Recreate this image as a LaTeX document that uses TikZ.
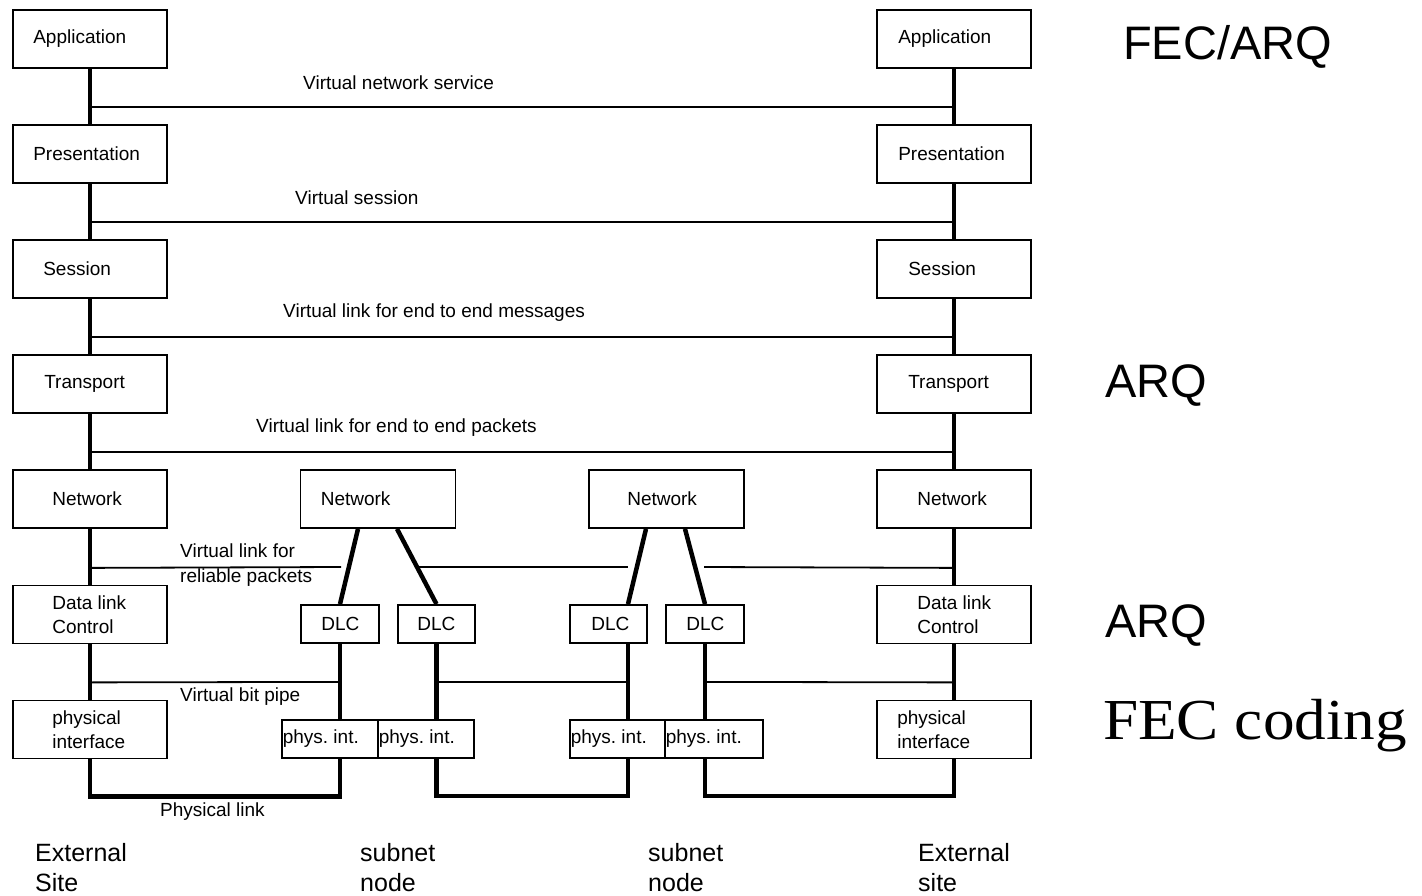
\documentclass[tikz,border=0pt]{standalone}
\usepackage{fontspec}
\usepackage{graphicx}
\setmainfont{Liberation Sans}
\newfontfamily\codingfont{Liberation Serif}
\usetikzlibrary{calc}
\frenchspacing

\tikzset{
	tag/.style={anchor=west, inner sep=0pt, align=left, font=\fontsize{19}{24}\selectfont},
	layer/.style n args={2}{draw, line width=1.8pt, minimum width=154pt, minimum height=58pt, inner sep=0pt, label={[tag, xshift=#1]west:{#2}}},
	smallbox/.style n args={2}{draw, line width=1.8pt, minimum height=38pt, inner sep=0pt, label={[tag, xshift=#1]west:{#2}}},
	stack/.style={line width=4.5pt},
	virtual/.style={line width=1.8pt},
	note/.style={anchor=west, inner sep=0pt, align=left, font=\fontsize{19}{25}\selectfont},
	site/.style={anchor=west, inner sep=0pt, align=left, font=\fontsize{25}{30}\selectfont},
	scheme/.style={anchor=base west, inner sep=0pt, font=\fontsize{47}{56}\selectfont},
}

\begin{document}
\begin{tikzpicture}[x=1pt,y=1pt,yscale=-1,xscale=1]
		\useasboundingbox (0,0) rectangle (1422,896);
		
		% external site, left
		\node [layer={21pt}{Application}] (appL) at (90,39) {};
		\node [layer={21pt}{Presentation}] (preL) at (90,154) {};
		\node [layer={31pt}{Session}] (sesL) at (90,269) {};
		\node [layer={32pt}{Transport}] (traL) at (90,384) {};
		\node [layer={40pt}{Network}] (netL) at (90,499) {};
		\node [layer={40pt}{Data link\\Control}] (dlcL) at (90,614.5) {};
		\node [layer={40pt}{physical\\interface}] (phyL) at (90,729.5) {};
		
		% external site, right
		\node [layer={22pt}{Application}] (appR) at (954,39) {};
		\node [layer={22pt}{Presentation}] (preR) at (954,154) {};
		\node [layer={32pt}{Session}] (sesR) at (954,269) {};
		\node [layer={32pt}{Transport}] (traR) at (954,384) {};
		\node [layer={41pt}{Network}] (netR) at (954,499) {};
		\node [layer={41pt}{Data link\\Control}] (dlcR) at (954,614.5) {};
		\node [layer={21pt}{physical\\interface}] (phyR) at (954,729.5) {};
		
		% subnet nodes
		\node [layer={21pt}{Network}, minimum width=155pt] (net1) at (378,499) {};
		\node [layer={39pt}{Network}, minimum width=155pt] (net2) at (666.5,499) {};
		\node [smallbox={21pt}{DLC}, minimum width=78pt] (dlc1) at (340,624) {};
		\node [smallbox={20pt}{DLC}, minimum width=77pt] (dlc2) at (436.5,624) {};
		\node [smallbox={22pt}{DLC}, minimum width=77pt] (dlc3) at (608.5,624) {};
		\node [smallbox={21pt}{DLC}, minimum width=78pt] (dlc4) at (705,624) {};
		\node [smallbox={1.5pt}{phys. int.}, minimum width=96pt] (phys1) at (330,739) {};
		\node [smallbox={1.5pt}{phys. int.}, minimum width=96pt] (phys2) at (426,739) {};
		\node [smallbox={1.5pt}{phys. int.}, minimum width=95pt] (phys3) at (617.5,739) {};
		\node [smallbox={1.5pt}{phys. int.}, minimum width=98pt] (phys4) at (714,739) {};
		\coordinate (tap3) at ($(dlc3.north)+(19.5,0)$);
		
		% layer stacks
		\draw [stack] (appL) -- (preL) (preL) -- (sesL) (sesL) -- (traL) (traL) -- (netL) (netL) -- (dlcL) (dlcL) -- (phyL);
		\draw [stack] (appR) -- (preR) (preR) -- (sesR) (sesR) -- (traR) (traR) -- (netR) (netR) -- (dlcR) (dlcR) -- (phyR);
		\draw [stack] ($(net1.south)+(-20,0)$) -- (dlc1.north);
		\draw [stack] ($(net1.south)+(19,0)$) -- (dlc2.north);
		\draw [stack] ($(net2.south)+(-20.5,0)$) -- (tap3);
		\draw [stack] ($(net2.south)+(18.5,0)$) -- (dlc4.north);
		\draw [stack] (dlc1.south) -- (dlc1.south |- phys1.north);
		\draw [stack] (dlc2.south) -- (dlc2.south |- phys2.north);
		\draw [stack] (tap3 |- dlc3.south) -- (tap3 |- phys3.north);
		\draw [stack] (dlc4.south) -- (dlc4.south |- phys4.north);
		
		% physical links
		\draw [stack] (phyL.south) -- ++(0,37) -| (dlc1.south |- phys1.south);
		\draw [stack] (dlc2.south |- phys2.south) -- ++(0,37) -| (tap3 |- phys3.south);
		\draw [stack] (dlc4.south |- phys4.south) -- ++(0,37) -| (phyR.south);
		
		% virtual links
		\draw [virtual] ($(appL.south)+(0,38)$) -- ($(appR.south)+(0,38)$);
		\draw [virtual] ($(preL.south)+(0,38)$) -- ($(preR.south)+(0,38)$);
		\draw [virtual] ($(sesL.south)+(0,38)$) -- ($(sesR.south)+(0,38)$);
		\draw [virtual] ($(traL.south)+(0,38)$) -- ($(traR.south)+(0,38)$);
		\coordinate (gap1) at (341,567);
		\coordinate (gap2) at (418,567);
		\coordinate (gap3) at (628,567);
		\coordinate (gap4) at (704,567);
		\draw [virtual] ($(netL.south)+(0,39)$) -- (gap1);
		\draw [virtual] (gap2) -- (gap3);
		\draw [virtual] (gap4) -- ($(netR.south)+(0,39)$);
		\draw [virtual] ($(dlcL.south)+(0,38)$) -- ($(dlc1.south)+(0,38)$);
		\draw [virtual] ($(dlc2.south)+(0,38)$) -- ($(tap3 |- dlc3.south)+(0,38)$);
		\draw [virtual] ($(dlc4.south)+(0,38)$) -- ($(dlcR.south)+(0,38)$);
		
		\node [note] (vnet) at (303,83) {Virtual network service};
		\node [note] (vses) at (295,198) {Virtual session};
		\node [note] (vmsg) at (283,313) {Virtual link for end to end messages};
		\node [note] (vpkt) at (256,428) {Virtual link for end to end packets};
		\node [note] (vrel) at (180,565.5) {Virtual link for\\reliable packets};
		\node [note] (vbit) at (180,697) {Virtual bit pipe};
		\node [note] (plink) at (160,812) {Physical link};
		
		\node [site] (siteL) at (35,868) {External\\Site};
		\node [site] (sub1) at (360,868) {subnet\\node};
		\node [site] (sub2) at (648,868) {subnet\\node};
		\node [site] (siteR) at (918,868) {External\\site};
		
		\node [scheme] (fecarq) at (1123,60) {FEC/ARQ};
		\node [scheme] (arq1) at (1105,397) {ARQ};
		\node [scheme] (arq2) at (1105,637) {ARQ};
		\node [scheme, font=\codingfont\fontsize{58}{64}\selectfont] (fec) at (1103,739) {\scalebox{1.09}[1]{FEC coding}};
		
\end{tikzpicture}
\end{document}
